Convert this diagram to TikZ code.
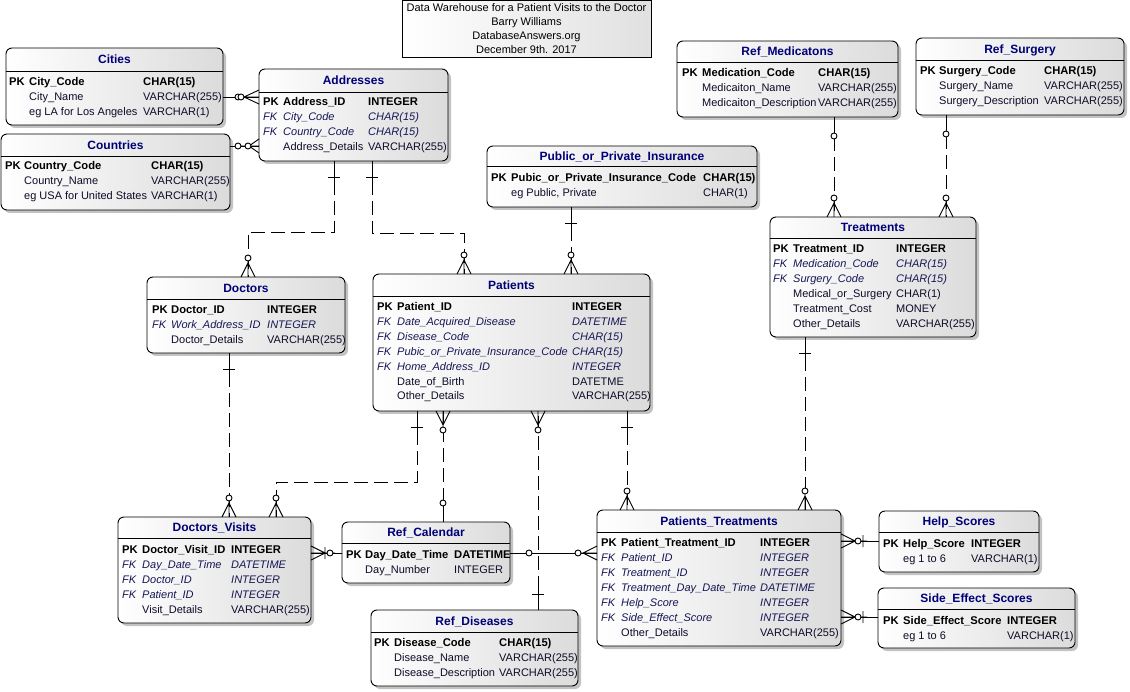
\documentclass[tikz,border=0pt]{standalone}
\usepackage{fontspec}
\setmainfont{Liberation Sans}
\usetikzlibrary{calc}
\definecolor{hdrblue}{RGB}{0,0,120}
\definecolor{fkblue}{RGB}{22,22,86}
\definecolor{txt}{RGB}{12,12,40}
\definecolor{shadowc}{RGB}{195,195,195}
\tikzset{
  x=1pt,y=-1pt,
  ln/.style={line width=0.9pt,black},
  dl/.style={ln,dash pattern=on 14pt off 6pt},
  entbox/.style={draw=black,line width=0.9pt,rounded corners=6pt,left color=white,right color=black!14,inner sep=0pt,outer sep=0pt,anchor=north west},
  ttlbox/.style={draw=black,line width=0.9pt,left color=white,right color=black!12,inner sep=0pt,outer sep=0pt,anchor=north west},
  hdr/.style={font=\fontsize{12}{14}\selectfont\bfseries,text=hdrblue,inner sep=0pt,anchor=base},
  ttltxt/.style={font=\fontsize{11}{12}\selectfont,text=black,inner sep=0pt,anchor=base},
  fpk/.style={font=\fontsize{11.2}{12}\selectfont\bfseries,text=black,inner sep=0pt,anchor=base west},
  ffk/.style={font=\fontsize{11}{12}\selectfont\itshape,text=fkblue,inner sep=0pt,anchor=base west},
  fnm/.style={font=\fontsize{11}{12}\selectfont,text=txt,inner sep=0pt,anchor=base west},
  circ/.style={ln,fill=white},
  zmany/.pic={\draw[ln] (0,0)--(22,0) (0,7)--(14,0) (0,-7)--(14,0); \draw[circ] (19,0) circle[radius=3pt];},
  zmanytwo/.pic={\draw[ln] (0,0)--(24,0) (0,7)--(15,0) (0,-7)--(15,0); \draw[circ] (21,0) circle[radius=3pt]; \draw[circ] (18,0) circle[radius=3pt];},
  zmanythree/.pic={\draw[ln] (0,0)--(24,0) (0,7)--(10,0) (0,-7)--(10,0); \draw[circ] (21,0) circle[radius=3pt]; \draw[circ] (11,0) circle[radius=3pt];},
  onebar/.pic={\draw[ln] (0,0)--(20,0) (16,-6)--(16,6);},
  zone/.pic={\draw[ln] (0,0)--(16,0); \draw[circ] (19,0) circle[radius=3pt];},
  crowbarcirc/.pic={\draw[ln] (0,0)--(24,0) (0,7)--(14,0) (0,-7)--(14,0) (14,-6)--(14,6); \draw[circ] (19,0) circle[radius=3pt];},
  crowcircbar/.pic={\draw[ln] (0,0)--(26,0) (0,7)--(14,0) (0,-7)--(14,0) (22,-6)--(22,6); \draw[circ] (17,0) circle[radius=3pt];},
}
\newcount\rc
\newcommand\ent[7]{%
  \fill[shadowc,rounded corners=6pt] (#2+3,#3+3) rectangle (#4+3,#5+3);
  \node[entbox,minimum width={(#4-#2)*1pt},minimum height={(#5-#3)*1pt}] (#1) at (#2,#3) {};
  \draw[ln] (#2,#6) -- (#4,#6);
  \node[hdr] (#1-t) at ({(#2+#4)/2},{(#3+#6)/2+4.3}) {#7};
}
\newcommand\cols[3]{\def\cA{#1}\def\cB{#2}\def\cC{#3}}
\newcommand\nx{\global\advance\rc by 1 }
\newcommand\pkrow[3]{\nx\node[fpk] (k\the\rc) at (\cA,#1+4) {PK};\nx\node[fpk] (k\the\rc) at (\cB,#1+4) {#2};\nx\node[fpk] (k\the\rc) at (\cC,#1+4) {#3};}
\newcommand\fkrow[3]{\nx\node[ffk] (k\the\rc) at (\cA,#1+4) {FK};\nx\node[ffk] (k\the\rc) at (\cB,#1+4) {#2};\nx\node[ffk] (k\the\rc) at (\cC,#1+4) {#3};}
\newcommand\nmrow[3]{\nx\node[fnm] (k\the\rc) at (\cB,#1+4) {#2};\nx\node[fnm] (k\the\rc) at (\cC,#1+4) {#3};}
\begin{document}
\begin{tikzpicture}
\useasboundingbox (0,0) rectangle (1130,692);
\fill[white] (0,0) rectangle (1130,692);

% title
\node[ttlbox,minimum width=249pt,minimum height=56.5pt] (ttl) at (402,0.5) {};
\node[ttltxt] (ttl1) at (526.5,12) {Data Warehouse for a Patient Visits to the Doctor};
\node[ttltxt] (ttl2) at (526.5,26) {Barry Williams};
\node[ttltxt] (ttl3) at (526.5,40) {DatabaseAnswers.org};
\node[ttltxt] (ttl4) at (526.5,54) {December 9th. 2017};

% entities
\ent{cities}{6}{48}{223}{125}{71}{Cities}
\cols{9}{29}{143}
\pkrow{82}{City\_Code}{CHAR(15)}
\nmrow{97}{City\_Name}{VARCHAR(255)}
\nmrow{112}{eg LA for Los Angeles}{VARCHAR(1)}

\ent{addr}{259}{69}{448}{161}{92}{Addresses}
\cols{263}{283}{368}
\pkrow{102}{Address\_ID}{INTEGER}
\fkrow{117}{City\_Code}{CHAR(15)}
\fkrow{132}{Country\_Code}{CHAR(15)}
\nmrow{147}{Address\_Details}{VARCHAR(255)}

\ent{ctry}{1}{134}{230}{210}{156}{Countries}
\cols{5}{24}{151}
\pkrow{166}{Country\_Code}{CHAR(15)}
\nmrow{181}{Country\_Name}{VARCHAR(255)}
\nmrow{196}{eg USA for United States}{VARCHAR(1)}

\ent{ins}{487}{146}{757}{207}{166}{Public\_or\_Private\_Insurance}
\cols{491}{511}{703}
\pkrow{178}{Pubic\_or\_Private\_Insurance\_Code}{CHAR(15)}
\nmrow{193}{eg Public, Private}{CHAR(1)}

\ent{med}{677}{41}{898}{117}{62}{Ref\_Medicatons}
\cols{682}{702}{818}
\pkrow{73}{Medication\_Code}{CHAR(15)}
\nmrow{88}{Medicaiton\_Name}{VARCHAR(255)}
\nmrow{103}{Medicaiton\_Description}{VARCHAR(255)}

\ent{surg}{916}{38}{1124}{115}{60}{Ref\_Surgery}
\cols{920}{939}{1044}
\pkrow{71}{Surgery\_Code}{CHAR(15)}
\nmrow{86}{Surgery\_Name}{VARCHAR(255)}
\nmrow{101}{Surgery\_Description}{VARCHAR(255)}

\ent{treat}{770}{217}{976}{337}{238}{Treatments}
\cols{773}{793}{896}
\pkrow{249}{Treatment\_ID}{INTEGER}
\fkrow{264}{Medication\_Code}{CHAR(15)}
\fkrow{279}{Surgery\_Code}{CHAR(15)}
\nmrow{294}{Medical\_or\_Surgery}{CHAR(1)}
\nmrow{309}{Treatment\_Cost}{MONEY}
\nmrow{324}{Other\_Details}{VARCHAR(255)}

\ent{doc}{147}{277}{345}{353}{299}{Doctors}
\cols{152}{171}{267}
\pkrow{310}{Doctor\_ID}{INTEGER}
\fkrow{325}{Work\_Address\_ID}{INTEGER}
\nmrow{340}{Doctor\_Details}{VARCHAR(255)}

\ent{pat}{373}{274}{650}{411}{296}{Patients}
\cols{377}{397}{572}
\pkrow{307}{Patient\_ID}{INTEGER}
\fkrow{322}{Date\_Acquired\_Disease}{DATETIME}
\fkrow{337}{Disease\_Code}{CHAR(15)}
\fkrow{352}{Pubic\_or\_Private\_Insurance\_Code}{CHAR(15)}
\fkrow{367}{Home\_Address\_ID}{INTEGER}
\nmrow{382}{Date\_of\_Birth}{DATETME}
\nmrow{396}{Other\_Details}{VARCHAR(255)}

\ent{dv}{118}{517}{311}{623}{538}{Doctors\_Visits}
\cols{122}{142}{231}
\pkrow{549}{Doctor\_Visit\_ID}{INTEGER}
\fkrow{564}{Day\_Date\_Time}{DATETIME}
\fkrow{579}{Doctor\_ID}{INTEGER}
\fkrow{594}{Patient\_ID}{INTEGER}
\nmrow{609}{Visit\_Details}{VARCHAR(255)}

\ent{cal}{342}{522}{510}{583}{543}{Ref\_Calendar}
\cols{346}{365}{454}
\pkrow{554}{Day\_Date\_Time}{DATETIME}
\nmrow{569}{Day\_Number}{INTEGER}

\ent{dis}{371}{610}{578}{686}{632}{Ref\_Diseases}
\cols{374}{394}{499}
\pkrow{642}{Disease\_Code}{CHAR(15)}
\nmrow{657}{Disease\_Name}{VARCHAR(255)}
\nmrow{672}{Disease\_Description}{VARCHAR(255)}

\ent{pt}{597}{510}{841}{646}{532}{Patients\_Treatments}
\cols{601}{621}{760}
\pkrow{542}{Patient\_Treatment\_ID}{INTEGER}
\fkrow{557}{Patient\_ID}{INTEGER}
\fkrow{572}{Treatment\_ID}{INTEGER}
\fkrow{587}{Treatment\_Day\_Date\_Time}{DATETIME}
\fkrow{602}{Help\_Score}{INTEGER}
\fkrow{617}{Side\_Effect\_Score}{INTEGER}
\nmrow{632}{Other\_Details}{VARCHAR(255)}

\ent{help}{879}{511}{1039}{572}{532}{Help\_Scores}
\cols{883}{903}{971}
\pkrow{543}{Help\_Score}{INTEGER}
\nmrow{558}{eg 1 to 6}{VARCHAR(1)}

\ent{side}{878}{588}{1075}{648}{609}{Side\_Effect\_Scores}
\cols{883}{903}{1007}
\pkrow{620}{Side\_Effect\_Score}{INTEGER}
\nmrow{635}{eg 1 to 6}{VARCHAR(1)}

% connectors
\draw[ln] (cities.east |- 0,97) -- (addr.west |- 0,97);
\draw[ln] (ctry.east |- 0,146) -- (addr.west |- 0,146);
\draw[dl] (334,0 |- addr.south) |- (248,232) -- (248,0 |- doc.north);
\draw[dl] (372,0 |- addr.south) |- (464,233) -- (464,0 |- pat.north);
\draw[dl] (571,0 |- ins.south) -- (571,0 |- pat.north);
\draw[dl] (834,0 |- med.south) -- (834,0 |- treat.north);
\draw[dl] (946,0 |- surg.south) -- (946,0 |- treat.north);
\draw[dl] (805,0 |- treat.south) -- (805,0 |- pt.north);
\draw[dl] (229,0 |- doc.south) -- (229,0 |- dv.north);
\draw[dl] (417,0 |- pat.south) |- (276,482) -- (276,0 |- dv.north);
\draw[dl] (443,0 |- cal.north) -- (443,0 |- pat.south);
\draw[dl] (538,0 |- dis.north) -- (538,0 |- pat.south);
\draw[dl] (627,0 |- pat.south) -- (627,0 |- pt.north);
\draw[ln] (cal.east |- 0,553) -- (pt.west |- 0,553);
\draw[ln] (cal.west |- 0,553) -- (dv.east |- 0,553);
\draw[ln] (pt.east |- 0,541) -- (help.west |- 0,541);
\draw[ln] (pt.east |- 0,617) -- (side.west |- 0,617);

% markers
\pic[rotate=180] at (addr.west |- 0,97) {zmanytwo};
\pic[rotate=180] at (addr.west |- 0,146) {zmanythree};
\pic[rotate=-90] at (334,0 |- addr.south) {onebar};
\pic[rotate=-90] at (372,0 |- addr.south) {onebar};
\pic[rotate=90] at (248,0 |- doc.north) {zmany};
\pic[rotate=90] at (464,0 |- pat.north) {zmany};
\pic[rotate=-90] at (571,0 |- ins.south) {onebar};
\pic[rotate=90] at (571,0 |- pat.north) {zmany};
\pic[rotate=-90] at (834,0 |- med.south) {zone};
\pic[rotate=90] at (834,0 |- treat.north) {zmany};
\pic[rotate=-90] at (946,0 |- surg.south) {zone};
\pic[rotate=90] at (946,0 |- treat.north) {zmany};
\pic[rotate=-90] at (805,0 |- treat.south) {onebar};
\pic[rotate=90] at (805,0 |- pt.north) {zmany};
\pic[rotate=-90] at (229,0 |- doc.south) {onebar};
\pic[rotate=90] at (229,0 |- dv.north) {zmany};
\pic[rotate=-90] at (417,0 |- pat.south) {onebar};
\pic[rotate=90] at (276,0 |- dv.north) {zmany};
\pic[rotate=90] at (443,0 |- cal.north) {zone};
\pic[rotate=-90] at (443,0 |- pat.south) {zmany};
\pic[rotate=90] at (538,0 |- dis.north) {onebar};
\pic[rotate=-90] at (538,0 |- pat.south) {zmany};
\pic[rotate=-90] at (627,0 |- pat.south) {onebar};
\pic[rotate=90] at (627,0 |- pt.north) {zmany};
\pic at (cal.east |- 0,553) {zone};
\pic[rotate=180] at (pt.west |- 0,553) {zmany};
\pic at (dv.east |- 0,553) {crowbarcirc};
\pic at (pt.east |- 0,541) {crowcircbar};
\pic at (pt.east |- 0,617) {crowcircbar};
\end{tikzpicture}
\end{document}
